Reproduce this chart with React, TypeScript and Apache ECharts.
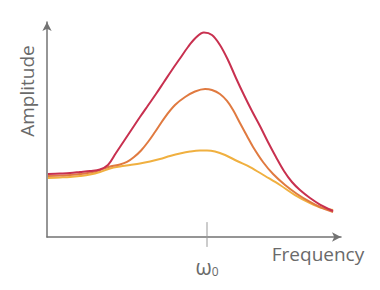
import React, { useEffect, useRef } from "react";
import * as echarts from "echarts";

// frequency as ratio to the resonance frequency ω0, amplitude in arbitrary units
const redCurve: [number, number][] = [
  [0.006, 1.016], [0.081, 1.024], [0.144, 1.032], [0.206, 1.048], [0.269, 1.065],
  [0.331, 1.089], [0.381, 1.161], [0.431, 1.355], [0.481, 1.548], [0.531, 1.742],
  [0.581, 1.935], [0.631, 2.121], [0.681, 2.306], [0.731, 2.5], [0.781, 2.694],
  [0.831, 2.879], [0.881, 3.065], [0.931, 3.218], [0.981, 3.298], [1.031, 3.258],
  [1.081, 3.097], [1.131, 2.855], [1.181, 2.565], [1.231, 2.29], [1.281, 2.032],
  [1.331, 1.79], [1.381, 1.532], [1.431, 1.29], [1.481, 1.065], [1.531, 0.887],
  [1.581, 0.758], [1.644, 0.629], [1.706, 0.524], [1.788, 0.419],
];
const orangeCurve: [number, number][] = [
  [0.006, 0.984], [0.081, 0.992], [0.144, 1.0], [0.206, 1.016], [0.269, 1.04],
  [0.331, 1.081], [0.394, 1.137], [0.456, 1.169], [0.5, 1.21], [0.544, 1.29],
  [0.588, 1.395], [0.631, 1.532], [0.675, 1.694], [0.738, 1.935], [0.8, 2.129],
  [0.863, 2.258], [0.925, 2.347], [0.988, 2.387], [1.031, 2.371], [1.081, 2.306],
  [1.125, 2.194], [1.163, 2.048], [1.206, 1.839], [1.25, 1.629], [1.288, 1.452],
  [1.35, 1.21], [1.413, 1.016], [1.488, 0.839], [1.563, 0.694], [1.644, 0.565],
  [1.706, 0.484], [1.788, 0.403],
];
const yellowCurve: [number, number][] = [
  [0.006, 0.952], [0.081, 0.96], [0.144, 0.968], [0.206, 0.984], [0.269, 1.008],
  [0.331, 1.048], [0.394, 1.105], [0.456, 1.137], [0.519, 1.161], [0.581, 1.185],
  [0.644, 1.218], [0.706, 1.258], [0.769, 1.306], [0.831, 1.347], [0.894, 1.379],
  [0.956, 1.395], [1.0, 1.395], [1.05, 1.379], [1.113, 1.323], [1.188, 1.226],
  [1.269, 1.129], [1.363, 0.984], [1.456, 0.839], [1.55, 0.677], [1.644, 0.548],
  [1.719, 0.468], [1.788, 0.435],
];
const resonanceTick: [number, number][] = [[1, -0.16], [1, 0.24]];
const xLabel = "Frequency";
const yLabel = "Amplitude";

export default function App() {
  const ref = useRef<HTMLDivElement>(null);
  useEffect(() => {
    if (!ref.current) return;
    const chart = echarts.init(ref.current, null, { renderer: "svg" });
    const axisColor = "#737373";
    const textColor = "#6a6a6a";
    const font = "Open Sans";
    const lineSeries = (data: [number, number][], color: string, z: number) => ({
      type: "line",
      data,
      smooth: 0.35,
      symbol: "none",
      z,
      lineStyle: { color, width: 2 },
    });
    chart.setOption({
      animation: false,
      grid: { left: 47, right: 39, top: 22, bottom: 53 },
      xAxis: {
        type: "value",
        min: 0,
        max: 1.8375,
        interval: 1,
        splitLine: { show: false },
        axisTick: { show: false },
        axisLine: {
          show: true,
          lineStyle: { color: axisColor, width: 1.5 },
          symbol: ["none", "arrow"],
          symbolSize: [7, 9],
        },
        axisLabel: {
          margin: 19,
          formatter: (v: number) => (v === 1 ? "{w|ω}{s|0}" : ""),
          rich: {
            w: { fontSize: 21, color: textColor, fontFamily: font },
            s: { fontSize: 12, color: textColor, fontFamily: font, padding: [9, 0, 0, 0] },
          },
        },
      },
      yAxis: {
        type: "value",
        min: 0,
        max: 3.468,
        splitLine: { show: false },
        axisTick: { show: false },
        axisLabel: { show: false },
        axisLine: {
          show: true,
          lineStyle: { color: axisColor, width: 1.5 },
          symbol: ["none", "arrow"],
          symbolSize: [7, 9],
        },
      },
      graphic: [
        {
          type: "text",
          x: 318,
          y: 254,
          style: {
            text: xLabel,
            fill: textColor,
            font: `19px "${font}"`,
            align: "center",
            verticalAlign: "middle",
          },
        },
        {
          type: "text",
          x: 27,
          y: 91,
          rotation: Math.PI / 2,
          style: {
            text: yLabel,
            fill: textColor,
            font: `19px "${font}"`,
            align: "center",
            verticalAlign: "middle",
          },
        },
      ],
      series: [
        lineSeries(yellowCurve, "#f0b040", 2),
        lineSeries(orangeCurve, "#e07a40", 3),
        lineSeries(redCurve, "#c8304f", 4),
        {
          type: "line",
          data: resonanceTick,
          symbol: "none",
          clip: false,
          lineStyle: { color: "#999999", width: 1 },
          z: 1,
        },
      ],
    });
    return () => chart.dispose();
  }, []);
  return <div ref={ref} style={{ width: 380, height: 290, margin: -8 }} />;
}
